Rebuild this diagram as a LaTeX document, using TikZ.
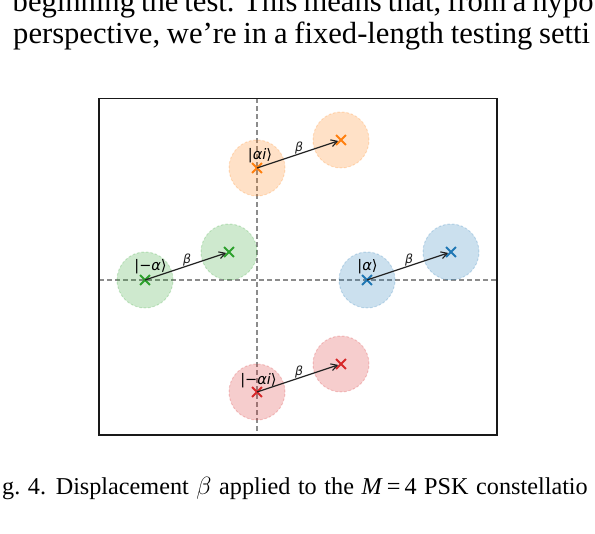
\documentclass[tikz,border=0pt]{standalone}
\usepackage{fontspec}
\setmainfont{Liberation Serif}
\newfontfamily\plotfont{DejaVu Sans}
\usetikzlibrary{shapes.misc,arrows.meta}
\definecolor{tabblue}{HTML}{1F77B4}
\definecolor{taborange}{HTML}{FF7F0E}
\definecolor{tabgreen}{HTML}{2CA02C}
\definecolor{tabred}{HTML}{D62728}
\definecolor{axgray}{HTML}{8C8C8C}
\newcommand\bodyspA{\spaceskip=6pt\relax}
\newcommand\bodyspB{\spaceskip=6.8pt\relax}
\newcommand\capsp{\spaceskip=7.6pt\relax}
\tikzset{
  blob/.style={circle, minimum size=56, inner sep=0, dash pattern=on 2.5 off 2,
    fill=#1, fill opacity=0.23, draw=#1, draw opacity=0.22, line width=1},
  xmark/.style={cross out, draw=#1, minimum size=8, inner sep=0, line width=1.8},
  ket/.style={font=\plotfont\fontsize{14.5}{16}\selectfont, inner sep=0, anchor=center},
  betalbl/.style={font=\plotfont\fontsize{12.5}{14}\selectfont, inner sep=0},
  disp/.style={-{Straight Barb[length=6,width=7,line width=1.1]}, line width=1.2, black!88, shorten >=3},
  axisline/.style={axgray, line width=1.2, dash pattern=on 5 off 3},
  bodytext/.style={font=\fontsize{30.6}{36}\selectfont, inner sep=0, anchor=base west},
  captext/.style={font=\fontsize{24.2}{28}\selectfont, inner sep=0, anchor=base west},
}
\begin{document}
\begin{tikzpicture}[x=1pt,y=-1pt]
\useasboundingbox (0,0) rectangle (595,534);
\clip (0,0) rectangle (595,534);
% body text
\node[bodytext] (l1) at (12.5,12) {\bodyspA beginning the test. This means that, from a hypo};
\node[bodytext] (l2) at (13,44) {\bodyspB perspective, we’re in a fixed-length testing setti};
% frame and axes
\coordinate (ftl) at (99,98.5);
\coordinate (fbr) at (497,435);
\coordinate (vt) at (257,98.5);
\coordinate (vb) at (257,435);
\coordinate (hl) at (99,280);
\coordinate (hr) at (497,280);
\draw[axisline] (vt) -- (vb);
\draw[axisline] (hl) -- (hr);
% circles
\node[blob=tabblue]   (cb0) at (367,280) {};
\node[blob=tabblue]   (cb1) at (451,252) {};
\node[blob=taborange] (co0) at (257,168) {};
\node[blob=taborange] (co1) at (341,140) {};
\node[blob=tabgreen]  (cg0) at (145,280) {};
\node[blob=tabgreen]  (cg1) at (229,252) {};
\node[blob=tabred]    (cr0) at (257,392) {};
\node[blob=tabred]    (cr1) at (341,364) {};
% markers
\node[xmark=tabblue]   (b0) at (cb0) {};
\node[xmark=tabblue]   (b1) at (cb1) {};
\node[xmark=taborange] (o0) at (co0) {};
\node[xmark=taborange] (o1) at (co1) {};
\node[xmark=tabgreen]  (g0) at (cg0) {};
\node[xmark=tabgreen]  (g1) at (cg1) {};
\node[xmark=tabred]    (r0) at (cr0) {};
\node[xmark=tabred]    (r1) at (cr1) {};
% displacement arrows
\draw[disp] (b0.center) -- (b1.center) node[betalbl, midway, yshift=5.5] (bb) {\textit{β}};
\draw[disp] (o0.center) -- (o1.center) node[betalbl, midway, yshift=5.5] (ob) {\textit{β}};
\draw[disp] (g0.center) -- (g1.center) node[betalbl, midway, yshift=5.5] (gb) {\textit{β}};
\draw[disp] (r0.center) -- (r1.center) node[betalbl, midway, yshift=5.5] (rb) {\textit{β}};
% ket labels
\node[ket] (kb) at (367.5,267) {|\textit{α}⟩};
\node[ket] (ko) at (260,156) {|\textit{αi}⟩};
\node[ket] (kg) at (150.5,267) {|−\textit{α}⟩};
\node[ket] (kr) at (258.5,381) {|−\textit{αi}⟩};
% frame
\draw[line width=1.3, black!90] (ftl) rectangle (fbr);
% caption
\node[captext] (cap) at (2,495) {\capsp g.\ 4.\hspace{0.4em}Displacement $\beta$ applied to the \textit{M}\,=\,4 PSK constellatio};
\end{tikzpicture}
\end{document}
